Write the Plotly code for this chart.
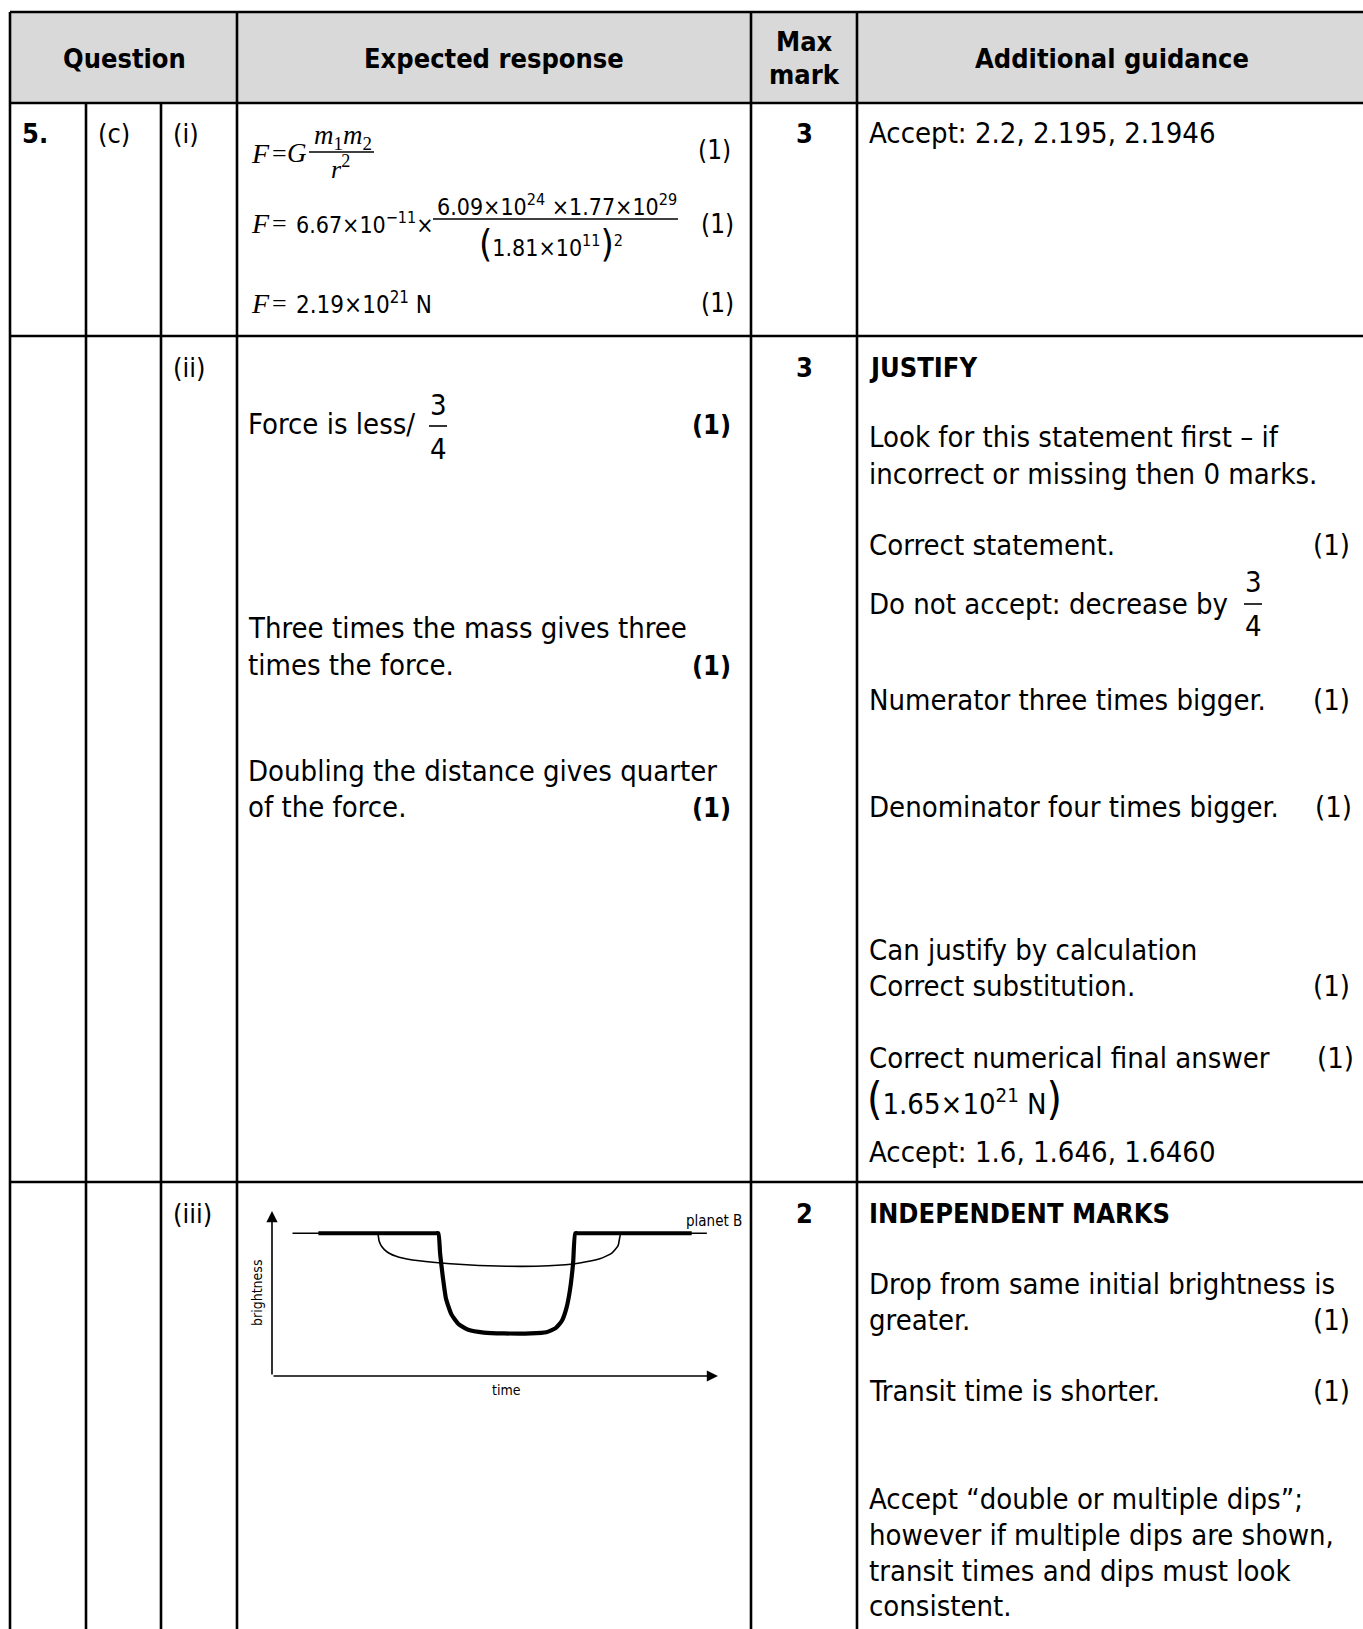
import plotly.graph_objects as go

W, H = 1363, 1629
SANS = "DejaVu Sans Condensed, DejaVu Sans, sans-serif"
SERIF = "Liberation Serif, DejaVu Serif, serif"
INK = "#000000"
BODY = 29
HEAD = 27
MATH = 23

# table grid in page pixels
col_x = [10, 86, 161, 237, 751, 857, 1368]
row_y = [12, 103, 336, 1182, 1640]

headers = ["Question", "Expected response", "Max", "mark", "Additional guidance"]
question_parts = ["5.", "(c)", "(i)", "(ii)", "(iii)"]
max_marks = ["3", "3", "2"]

# brightness sketch (time, brightness in arbitrary units)
thin_time = [4.6, 23.2, 23.7, 24.0, 24.6, 25.9, 28.5, 33.0, 40.0, 52.6, 62.0, 69.0, 73.5, 76.2, 77.6, 78.2, 78.7, 97.5]
thin_bright = [86.5, 86.5, 86.5, 82.0, 78.5, 75.0, 72.0, 69.8, 68.0, 66.5, 66.8, 68.5, 71.0, 74.5, 79.0, 86.5, 86.5, 86.5]
thick_time = [10.4, 36.8, 37.3, 37.7, 38.3, 39.0, 40.2, 41.8, 44.0, 47.5, 52.0, 58.0, 61.5, 63.6, 65.0, 66.0, 66.8, 67.5, 68.0, 68.5, 94.1]
thick_bright = [86.5, 86.5, 86.5, 74.0, 60.0, 47.0, 37.5, 31.5, 28.0, 26.3, 25.8, 25.8, 26.5, 29.0, 33.5, 41.0, 52.0, 68.0, 86.5, 86.5, 86.5]

fig = go.Figure()

fig.add_trace(go.Scatter(x=thin_time, y=thin_bright, mode="lines", line=dict(color=INK, width=1.6, shape="spline", smoothing=0.5),
                         xaxis="x2", yaxis="y2", hoverinfo="skip", showlegend=False))
fig.add_trace(go.Scatter(x=thick_time, y=thick_bright, mode="lines", line=dict(color=INK, width=4.2, shape="spline", smoothing=0.5),
                         xaxis="x2", yaxis="y2", hoverinfo="skip", showlegend=False))

shapes = []
# header shading
shapes.append(dict(type="rect", xref="x", yref="y", x0=col_x[0], x1=col_x[-1], y0=row_y[0], y1=row_y[1],
                   fillcolor="#d9d9d9", line=dict(width=0), layer="below"))
lw = 2.6
for yy in row_y[:4]:
    shapes.append(dict(type="line", xref="x", yref="y", x0=col_x[0], x1=col_x[-1], y0=yy, y1=yy, line=dict(color=INK, width=lw)))
for i, xx in enumerate(col_x):
    top = row_y[1] if i in (1, 2) else row_y[0]
    shapes.append(dict(type="line", xref="x", yref="y", x0=xx, x1=xx, y0=top, y1=row_y[-1], line=dict(color=INK, width=lw)))

annotations = []


def txt(x, y, text, size=BODY, anchor="left", family=SANS, angle=0):
    annotations.append(dict(x=x, y=y, xref="x", yref="y", text=text, showarrow=False, xanchor=anchor, yanchor="middle",
                            textangle=angle, font=dict(family=family, size=size, color=INK)))


def hline(x0, x1, y, width=1.4):
    shapes.append(dict(type="line", xref="x", yref="y", x0=x0, x1=x1, y0=y, y1=y, line=dict(color=INK, width=width)))


# header
txt(124, 58, "<b>%s</b>" % headers[0], size=HEAD, anchor="center")
txt(494, 58, "<b>%s</b>" % headers[1], size=HEAD, anchor="center")
txt(804, 41, "<b>%s</b>" % headers[2], size=HEAD, anchor="center")
txt(804, 74, "<b>%s</b>" % headers[3], size=HEAD, anchor="center")
txt(1112, 58, "<b>%s</b>" % headers[4], size=HEAD, anchor="center")

# question numbering
txt(20, 133, "<b>%s</b>" % question_parts[0], size=HEAD)
txt(96, 133, question_parts[1], size=HEAD)
txt(171, 133, question_parts[2], size=HEAD)
txt(171, 367, question_parts[3], size=HEAD)
txt(171, 1213, question_parts[4], size=HEAD)
txt(804, 133, "<b>%s</b>" % max_marks[0], size=HEAD, anchor="center")
txt(804, 367, "<b>%s</b>" % max_marks[1], size=HEAD, anchor="center")
txt(804, 1213, "<b>%s</b>" % max_marks[2], size=HEAD, anchor="center")

# (i) working
for yy in (153, 223, 303):
    txt(249, yy, "<i>F</i>", size=28, family=SERIF)
    txt(279, yy, "=", size=26, anchor="center", family=SERIF)
txt(285, 153, "<i>G</i>", size=27, family=SERIF)
txt(343, 137, "<i>m</i><sub>1</sub><i>m</i><sub>2</sub>", size=27, anchor="center", family=SERIF)
hline(309, 374, 152)
txt(340, 167, "<i>r</i><sup>2</sup>", size=26, anchor="center", family=SERIF)
txt(733, 150, "(1)", size=26, anchor="right")

txt(294, 223, "6.67×10<sup>−11</sup>×", size=MATH)
txt(557, 205, "6.09×10<sup>24</sup> ×1.77×10<sup>29</sup>", size=MATH, anchor="center")
hline(433, 678, 219)
txt(551, 243, "<span style=\"font-size:38px\">(</span>1.81×10<sup>11</sup><span style=\"font-size:38px\">)</span><sup>2</sup>",
    size=MATH, anchor="center")
txt(736, 224, "(1)", size=26, anchor="right")

txt(294, 303, "2.19×10<sup>21</sup> N", size=MATH + 1)
txt(736, 303, "(1)", size=26, anchor="right")

txt(867, 133, "Accept: 2.2, 2.195, 2.1946")

# (ii) expected response
txt(246, 424, "Force is less/")
txt(438, 405, "3", anchor="center")
hline(429, 447, 426, width=1.6)
txt(438, 449, "4", anchor="center")
txt(733, 424, "<b>(1)</b>", size=HEAD, anchor="right")
txt(246, 628, "Three times the mass gives three")
txt(246, 665, "times the force.")
txt(733, 665, "<b>(1)</b>", size=HEAD, anchor="right")
txt(246, 771, "Doubling the distance gives quarter")
txt(246, 807, "of the force.")
txt(733, 807, "<b>(1)</b>", size=HEAD, anchor="right")

# (ii) guidance
txt(867, 367, "<b>JUSTIFY</b>", size=HEAD)
txt(867, 437, "Look for this statement first – if")
txt(867, 474, "incorrect or missing then 0 marks.")
txt(867, 545, "Correct statement.")
txt(1352, 545, "(1)", anchor="right")
txt(867, 604, "Do not accept: decrease by")
txt(1253, 582, "3", anchor="center")
hline(1244, 1262, 604, width=1.6)
txt(1253, 626, "4", anchor="center")
txt(867, 700, "Numerator three times bigger.")
txt(1352, 700, "(1)", anchor="right")
txt(867, 807, "Denominator four times bigger.")
txt(1354, 807, "(1)", anchor="right")
txt(867, 950, "Can justify by calculation")
txt(867, 986, "Correct substitution.")
txt(1352, 986, "(1)", anchor="right")
txt(867, 1058, "Correct numerical final answer")
txt(1356, 1058, "(1)", anchor="right")
txt(865, 1098, "<span style=\"font-size:44px\">(</span>1.65×10<sup>21</sup> N<span style=\"font-size:44px\">)</span>")
txt(867, 1152, "Accept: 1.6, 1.646, 1.6460")

# (iii) guidance
txt(867, 1213, "<b>INDEPENDENT MARKS</b>", size=HEAD)
txt(867, 1284, "Drop from same initial brightness is")
txt(867, 1320, "greater.")
txt(1352, 1320, "(1)", anchor="right")
txt(867, 1391, "Transit time is shorter.")
txt(1352, 1391, "(1)", anchor="right")
txt(867, 1499, "Accept “double or multiple dips”;")
txt(867, 1535, "however if multiple dips are shown,")
txt(867, 1571, "transit times and dips must look")
txt(867, 1606, "consistent.")

# sketch labels and arrowed axes
txt(684, 1221, "planet B", size=15)
txt(257, 1293, "brightness", size=14, anchor="center", angle=-90)
txt(506, 1390, "time", size=14, anchor="center")
for tip in [(100, 0), (0, 100)]:
    annotations.append(dict(x=tip[0], y=tip[1], ax=0, ay=0, xref="x2", yref="y2", axref="x2", ayref="y2", text="",
                            showarrow=True, arrowhead=2, arrowsize=1.4, arrowwidth=1.6, arrowcolor=INK))

fig.update_layout(
    width=W, height=H,
    margin=dict(l=0, r=0, t=0, b=0),
    paper_bgcolor="white", plot_bgcolor="rgba(0,0,0,0)",
    xaxis=dict(range=[0, W], domain=[0, 1], visible=False, fixedrange=True),
    yaxis=dict(range=[H, 0], domain=[0, 1], visible=False, fixedrange=True),
    xaxis2=dict(range=[0, 100], domain=[272 / W, 718 / W], anchor="y2", visible=False, fixedrange=True),
    yaxis2=dict(range=[0, 100], domain=[1 - 1376 / H, 1 - 1211 / H], anchor="x2", visible=False, fixedrange=True),
    shapes=shapes,
    annotations=annotations,
    showlegend=False,
)

fig.write_html("out.html", config={"displayModeBar": False, "staticPlot": True},
               post_script="document.body.style.margin='0';")
